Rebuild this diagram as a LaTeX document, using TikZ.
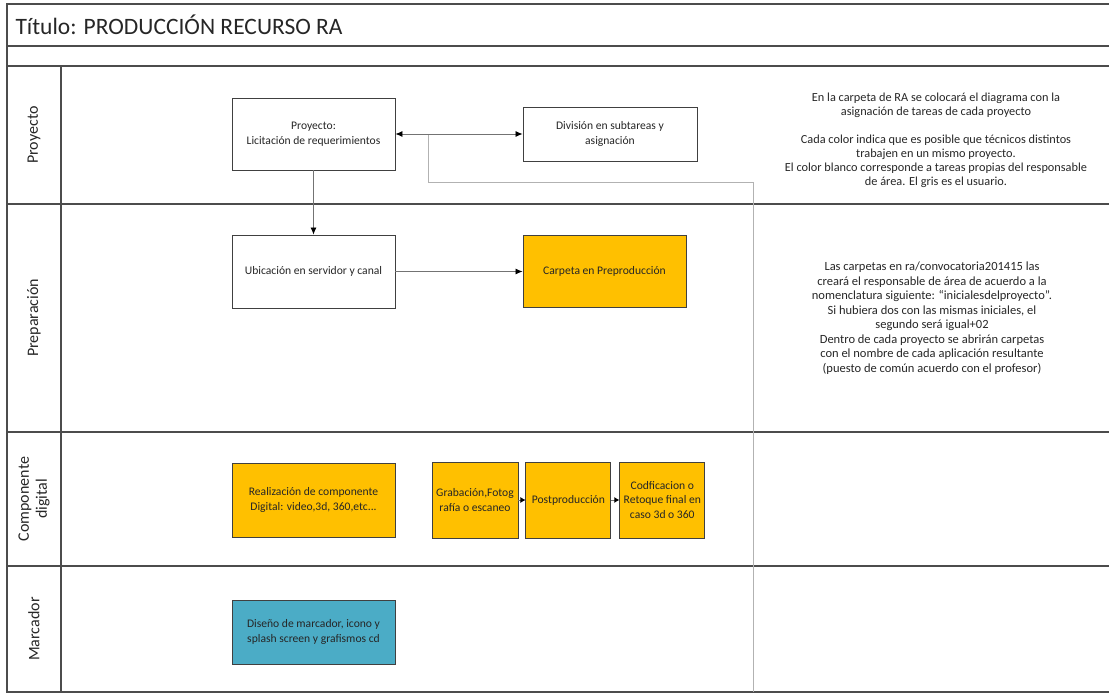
\documentclass[tikz,border=0pt]{standalone}
\usepackage{fontspec}
\setmainfont{Carlito}
\usetikzlibrary{arrows.meta,positioning}
\definecolor{taskorange}{HTML}{FFC000}
\definecolor{taskblue}{HTML}{4BACC6}

\begin{document}
\begin{tikzpicture}[x=1pt,y=-1pt]
			\tikzset{
				frame/.style={draw=black!70, line width=1.3pt},
				task/.style={draw=black!75, line width=0.9pt, fill=white, align=center, inner sep=2pt, text=black!85, font={\fontsize{11.6}{14.5}\selectfont}},
				orangetask/.style={task, fill=taskorange},
				bluetask/.style={task, fill=taskblue},
				lanelabel/.style={rotate=90, align=center, text=black!85, font={\fontsize{16}{18}\selectfont}},
				note/.style={align=center, text=black!85, font={\fontsize{12.5}{14.5}\selectfont}},
				arrow/.style={->, draw=black!55, line width=0.8pt, >={Latex[length=7pt,width=6pt,black]}},
				guide/.style={draw=black!30, line width=0.9pt},
			}

			\useasboundingbox (0,0) rectangle (1109,696);

			\draw[frame] (1109,4) -- (7,4) -- (7,692) -- (1109,692);
			\foreach \y in {46, 66, 204, 432, 566}
				{
					\draw[frame] (7,\y) -- (1109,\y);
				}
			\draw[frame] (61,66) -- (61,692);

			\node[anchor=west, text=black!85, font={\fontsize{23.5}{26}\selectfont}] (title) at (12,25) {Título: PRODUCCIÓN RECURSO RA};

			\node[lanelabel] (lane-proy) at (34,135) {Proyecto};
			\node[lanelabel] (lane-prep) at (34,318) {Preparación};
			\node[lanelabel] (lane-comp) at (34,499) {Componente\\digital};
			\node[lanelabel] (lane-marc) at (34,629) {Marcador};

			\node[task, minimum width=163pt, minimum height=72pt] (proy) at (313.5,134) {Proyecto:\\Licitación de requerimientos};
			\node[task, minimum width=174pt, minimum height=54pt] (div) at (610,134) {División en subtareas y\\asignación};
			\node[task, minimum width=163pt, minimum height=73pt] (ubic) at (313.5,271.5) {Ubicación en servidor y canal};
			\node[orangetask, minimum width=163pt, minimum height=72pt] (carp) at (604.5,271.5) {Carpeta en Preproducción};
			\node[orangetask, minimum width=163pt, minimum height=74pt] (real) at (313.5,500) {Realización de componente\\Digital: video,3d, 360,etc...};
			\node[orangetask, minimum width=86pt, minimum height=76pt] (grab) at (475,500) {Grabación,Fotog\\rafía o escaneo};
			\node[orangetask, minimum width=85pt, minimum height=76pt, right=7pt of grab] (post) {Postproducción};
			\node[orangetask, minimum width=85pt, minimum height=76pt, right=8pt of post] (cod) {Codficacion o\\Retoque final en\\caso 3d o 360};
			\node[bluetask, minimum width=163pt, minimum height=64pt] (dis) at (313.5,632) {Diseño de marcador, icono y\\splash screen y grafismos cd};

			\node[note, font={\fontsize{12.3}{14}\selectfont}] (note-proy) at (936,140) {En la carpeta de RA se colocará el diagrama con la\\asignación de tareas de cada proyecto\\[14pt]Cada color indica que es posible que técnicos distintos\\trabajen en un mismo proyecto.\\El color blanco corresponde a tareas propias del responsable\\de área. El gris es el usuario.};
			\node[note] (note-prep) at (932,318) {Las carpetas en ra/convocatoria201415 las\\creará el responsable de área de acuerdo a la\\nomenclatura siguiente: “inicialesdelproyecto”.\\Si hubiera dos con las mismas iniciales, el\\segundo será igual+02\\Dentro de cada proyecto se abrirán carpetas\\con el nombre de cada aplicación resultante\\(puesto de común acuerdo con el profesor)};

			\coordinate (split) at (428,134);
			\coordinate (guide-corner) at (753,182);
			\coordinate (guide-end) at (753,692);
			\draw[guide] (split) |- (guide-corner) -- (guide-end);

			\draw[arrow, <->] (proy.east) -- (div.west);
			\draw[arrow] (proy) -- (ubic);
			\draw[arrow] (ubic.east) -- (carp.west);
			\foreach \a/\b in {grab/post, post/cod}
				{
					\draw[arrow, >={Latex[length=5pt,width=6pt,black]}] (\a.east) -- (\b.west);
				}

		\end{tikzpicture}
\end{document}
